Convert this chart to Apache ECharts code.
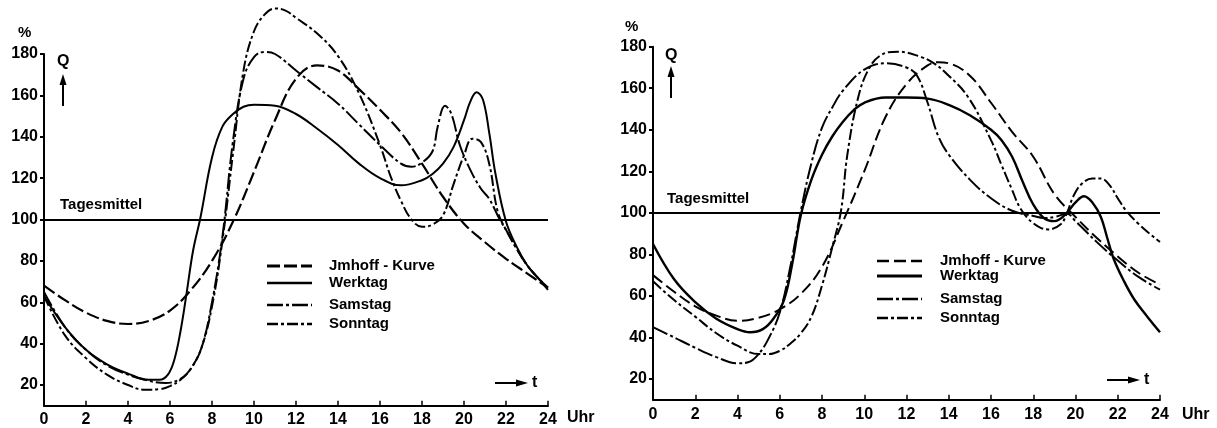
<!DOCTYPE html>
<html><head><meta charset="utf-8">
<script src="https://cdn.jsdelivr.net/npm/echarts@6/dist/echarts.min.js"></script>
<style>html,body{margin:0;padding:0;background:#fff}#c{width:1217px;height:428px}</style>
</head><body><div id="c"></div>
<script>
// ---------- data ----------
const xTicks = [0,2,4,6,8,10,12,14,16,18,20,22,24];
const yTicks = [20,40,60,80,100,120,140,160,180];
const dailyMean = 100;
const legendNames = ['Jmhoff - Kurve','Werktag','Samstag','Sonntag'];

// left diagram  [hour, Q %]
const leftImhoff = [[0,68],[1,61],[2,55],[3,51],[4,49.5],[5,51],[6,56],[7,66],[8,80],[9,99],[10,123],[11,148],[12,168],[13,174.5],[14,172],[15,163],[16,153],[17,142],[18,127],[19,111],[20,98],[21,89],[22,81],[23,74],[24,67]];
const leftWerktag = [[0,63],[1,48],[2,37],[3,30],[4,25.5],[5,22.5],[5.5,22.5],[5.9,25],[6.2,32],[6.5,46],[6.8,65],[7.1,85],[7.45,101],[8,130],[8.5,145],[9,151],[9.5,154.5],[10,155.5],[11,155],[12,151],[13,144],[14,136],[15,127],[16,120],[17,116.5],[18,119],[18.5,122],[19,127],[19.5,135],[20,148],[20.3,157],[20.6,161.5],[20.9,158],[21.2,142],[21.5,122],[22,99],[22.5,87],[23,78],[23.5,72],[24,66]];
const leftSamstag = [[0,65],[1,48],[2,37],[3,29.5],[4,25],[5,22],[5.8,21],[6.5,23],[7,28],[7.5,38],[8,60],[8.5,92],[9,138],[9.5,168],[10,178.5],[10.5,181],[11,180],[12,172],[13,164],[14,156],[15,146],[16,136],[17,127],[17.5,125.5],[18,127.5],[18.5,133],[18.75,145],[19.1,155],[19.4,151],[19.8,136],[20.3,124],[20.8,115],[21.2,110],[21.7,100],[22,95],[22.5,86],[23,78],[23.5,72],[24,67]];
const leftSonntag = [[0,63],[1,44],[2,33],[3,25],[4,20],[4.8,17.7],[5.5,18],[6,19.5],[6.5,22.5],[7,28],[7.5,38],[8,58],[8.5,90],[9,132],[9.5,172],[10,191],[10.5,199],[11,202],[11.5,201],[12,197.5],[13,190],[14,179],[15,161],[16,136],[16.5,121],[17,109],[17.5,100],[18,96.5],[18.5,97.5],[19,102],[19.5,117],[20,131],[20.4,139],[20.8,137.5],[21.2,127],[21.6,104],[22,95],[22.5,86],[23,78],[23.5,72],[24,67]];

// right diagram  [hour, Q %]
const rightImhoff = [[0,70],[1,62],[2,55],[3,50.5],[4,48],[5,49.5],[6,53.5],[7,61],[8,74],[9,96],[10,120],[11,146],[12,162],[13,171],[13.5,172.5],[14,172],[15,166],[16,153],[17,139],[18,127],[19,109],[20,98],[21,88],[22,79],[23,71],[24,65.5]];
const rightWerktag = [[0,85],[1,68],[2,57],[3,49],[4,44],[4.6,42.5],[5.2,44],[5.7,49],[6.2,58],[6.6,76],[7,99],[7.5,116],[8,128],[8.5,137],[9,144],[9.5,149.5],[10,153],[11,155.5],[12,155.5],[13,155],[14,152],[15,147],[16,140],[16.5,135],[17,127],[17.5,115],[18,104],[18.5,97.5],[19,96],[19.5,99],[20,105],[20.4,108],[20.8,105],[21.2,98],[21.5,88],[21.8,78],[22.3,67],[22.8,58],[23.4,50],[24,42.5]];
const rightSamstag = [[0,45],[1,40],[2,35],[3,30.5],[4,27.5],[4.5,28],[5,32],[5.5,40],[6,52],[6.5,74],[7,101],[7.5,124],[8,141],[8.5,151],[9,159],[10,169],[11,172],[12,170],[12.5,166],[13,153],[13.5,137],[14,128],[15,116],[16,107],[17,101],[18,98.5],[18.5,97.5],[19,98],[19.6,99.5],[20,96],[21,86],[22,77],[23,69],[24,63]];
const rightSonntag = [[0,67],[1,58],[2,50],[3,42],[4,36],[5,32],[5.5,32],[6,33.5],[6.5,37],[7,42],[7.5,50],[8,65],[8.5,84],[8.9,101],[9.2,128],[9.7,155],[10.2,169],[10.8,176],[11.6,177.6],[12.7,175],[13.3,172],[13.9,167],[14.9,156],[16,135],[16.5,123],[17,111],[17.4,102],[18,95],[18.7,92],[19.3,94.5],[19.6,100],[19.9,108],[20.3,114],[20.8,116.5],[21.2,116.5],[21.6,113.5],[22,107],[22.4,101],[23,94.5],[23.5,90],[24,86]];

// ---------- chart ----------
const FONT = '"Liberation Sans", Arial, sans-serif';
const styles = [
  {type:[13,4], width:2.2},
  {type:'solid', width:2},
  {type:[16,3,3,3], width:2},
  {type:[11,3,3,3], width:2}
];
const rightStyles = [
  {type:[12,5], width:2},
  {type:'solid', width:2.4},
  {type:[16,3,3,3], width:2},
  {type:[11,3,3,3], width:2}
];

function xAxisFor(gi, margin){
  return {type:'value', gridIndex:gi, min:0, max:24, interval:2,
    axisLine:{show:true, onZero:false, lineStyle:{color:'#000', width:2}},
    axisTick:{show:true, inside:true, length:5, lineStyle:{color:'#000', width:1.5}},
    axisLabel:{color:'#000', fontFamily:FONT, fontWeight:'bold', fontSize:16, margin:margin, customValues:xTicks},
    splitLine:{show:false}};
}
function yAxisFor(gi){
  return {type:'value', gridIndex:gi, min:10, max:180,
    axisLine:{show:true, onZero:false, lineStyle:{color:'#000', width:2}},
    axisTick:{show:true, length:4, customValues:yTicks, lineStyle:{color:'#000', width:2}},
    axisLabel:{color:'#000', fontFamily:FONT, fontWeight:'bold', fontSize:16, margin:6, customValues:yTicks},
    splitLine:{show:false}};
}
function mkSeries(data, gi, st, withMean){
  const s = {type:'line', xAxisIndex:gi, yAxisIndex:gi, data:data, showSymbol:false, symbol:'none',
    smooth:0.4, clip:false, silent:true,
    lineStyle:{color:'#000', width:st.width, type:st.type}};
  if (withMean) {
    s.markLine = {silent:true, symbol:['none','none'], label:{show:false},
      lineStyle:{color:'#000', width:2, type:'solid'}, data:[{yAxis:dailyMean}]};
  }
  return s;
}

const ln = (x1,y1,x2,y2,w,dash) => ({type:'line', shape:{x1,y1,x2,y2}, style:{stroke:'#000', lineWidth:w, lineDash:dash||null}});
const poly = (pts) => ({type:'polygon', shape:{points:pts}, style:{fill:'#000'}});
const label = (x,y,t,size) => ({type:'text', x:x, y:y, style:{text:t, fill:'#000', font:'bold '+size+'px '+FONT, textVerticalAlign:'middle'}});

function legendBlock(x1,x2,tx,ys,sts){
  const out = [];
  legendNames.forEach((n,i)=>{
    const st = sts[i];
    out.push(ln(x1,ys[i],x2,ys[i], st.width+0.6, st.type==='solid'?null:st.type));
    out.push(label(tx, ys[i], n, 15));
  });
  return out;
}

const graphics = [].concat(
  [
    label(18,33,'%',15),
    label(57,62,'Q',16),
    ln(63,106,63,82,2), poly([[63,74],[59.5,85],[66.5,85]]),
    label(60,205,'Tagesmittel',15),
    ln(495,383,518,383,2), poly([[528,383],[516,379.5],[516,386.5]]),
    label(532,383,'t',16),
    label(567,418,'Uhr',16),

    label(625,27,'%',15),
    label(665,56,'Q',16),
    ln(671,98,671,74,2), poly([[671,66],[667.5,77],[674.5,77]]),
    label(667,199,'Tagesmittel',15),
    ln(1107,380,1130,380,2), poly([[1140,380],[1128,376.5],[1128,383.5]]),
    label(1144,380,'t',16),
    label(1182,415,'Uhr',16)
  ],
  legendBlock(267,312,329,[266,283,305,324],styles),
  legendBlock(877,922,940,[261,276,299,318],rightStyles)
);

const chart = echarts.init(document.getElementById('c'), null, {renderer:'canvas'});
chart.setOption({
  animation:false,
  backgroundColor:'#fff',
  grid:[
    {left:44, top:54, width:504, height:351.7},
    {left:653, top:46.7, width:507, height:353}
  ],
  xAxis:[xAxisFor(0,6), xAxisFor(1,7)],
  yAxis:[yAxisFor(0), yAxisFor(1)],
  series:[
    mkSeries(leftImhoff,0,styles[0],true),
    mkSeries(leftWerktag,0,styles[1],false),
    mkSeries(leftSamstag,0,styles[2],false),
    mkSeries(leftSonntag,0,styles[3],false),
    mkSeries(rightImhoff,1,rightStyles[0],true),
    mkSeries(rightWerktag,1,rightStyles[1],false),
    mkSeries(rightSamstag,1,rightStyles[2],false),
    mkSeries(rightSonntag,1,rightStyles[3],false)
  ],
  graphic:graphics
});
</script>
</body></html>
